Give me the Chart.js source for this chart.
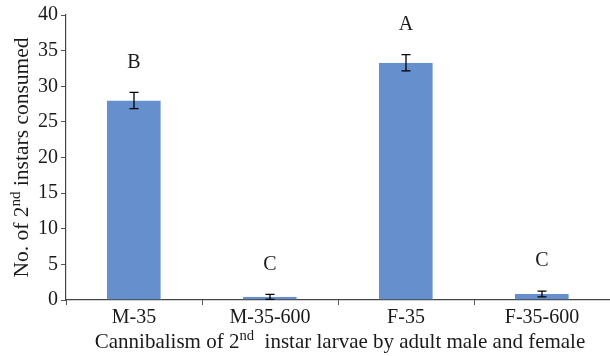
<!DOCTYPE html>
<html>
<head>
<meta charset="utf-8">
<script src="https://cdn.jsdelivr.net/npm/chart.js@4/dist/chart.umd.min.js"></script>
<style>
  html, body { margin: 0; padding: 0; background: #fff; }
  #wrap { width: 610px; height: 356px; }
</style>
</head>
<body>
<div id="wrap"><canvas id="cann"></canvas></div>
<script>
  const groups = ['M-35', 'M-35-600', 'F-35', 'F-35-600'];
  const consumed = [28.0, 0.45, 33.3, 0.85];
  const stdErr = [1.15, 0.35, 1.15, 0.4];
  const letters = ['B', 'C', 'A', 'C'];
  const yTicks = [0, 5, 10, 15, 20, 25, 30, 35, 40];

  const FONT = '"Liberation Serif", "Times New Roman", serif';
  const INK = '#1a1a1a';

  // text with a superscript part: [[text, isSup], ...]
  function supText(ctx, parts, size) {
    let w = 0;
    parts.forEach(p => {
      ctx.font = (p[1] ? size * 0.7 : size) + 'px ' + FONT;
      w += ctx.measureText(p[0]).width;
    });
    return w;
  }
  function drawSupText(ctx, parts, size, cx, cy) {
    const w = supText(ctx, parts, size);
    let x = cx - w / 2;
    ctx.textAlign = 'left';
    ctx.textBaseline = 'alphabetic';
    parts.forEach(p => {
      ctx.font = (p[1] ? size * 0.7 : size) + 'px ' + FONT;
      ctx.fillText(p[0], x, cy + size * 0.33 - (p[1] ? size * 0.36 : 0));
      x += ctx.measureText(p[0]).width;
    });
  }

  const extras = {
    id: 'extras',
    afterDatasetsDraw(chart) {
      const { ctx, scales: { y } } = chart;
      const meta = chart.getDatasetMeta(0);
      ctx.save();
      ctx.strokeStyle = '#000';
      ctx.lineWidth = 1.3;
      ctx.fillStyle = INK;
      meta.data.forEach((bar, i) => {
        const top = y.getPixelForValue(consumed[i] + stdErr[i]);
        const bot = y.getPixelForValue(consumed[i] - stdErr[i]);
        const cx = bar.x;
        ctx.beginPath();
        ctx.moveTo(cx, top); ctx.lineTo(cx, bot);
        ctx.moveTo(cx - 4.5, top); ctx.lineTo(cx + 4.5, top);
        ctx.moveTo(cx - 4.5, bot); ctx.lineTo(cx + 4.5, bot);
        ctx.stroke();
        ctx.font = '20px ' + FONT;
        ctx.textAlign = 'center';
        ctx.textBaseline = 'middle';
        ctx.fillText(letters[i], cx, top - 30);
      });
      // axis titles
      const area = chart.chartArea;
      ctx.save();
      ctx.translate(21, (area.top + area.bottom) / 2);
      ctx.rotate(-Math.PI / 2);
      drawSupText(ctx, [['No. of 2', false], ['nd', true], [' instars consumed', false]], 21.5, 0, 0);
      ctx.restore();
      drawSupText(ctx, [['Cannibalism of 2', false], ['nd', true], ['  instar larvae by adult male and female', false]],
        21, (area.left + area.right) / 2 + 2, 341);
      ctx.restore();
    }
  };

  new Chart(document.getElementById('cann'), {
    type: 'bar',
    data: {
      labels: groups,
      datasets: [{
        data: consumed,
        backgroundColor: '#658fcd',
        borderColor: '#9fbbe4',
        borderWidth: { right: 1 },
        barPercentage: 0.4,
        categoryPercentage: 1
      }]
    },
    options: {
      responsive: true,
      maintainAspectRatio: false,
      animation: false,
      layout: { padding: { top: 15, right: 0, left: 0, bottom: 0 } },
      plugins: { legend: { display: false }, tooltip: { enabled: false } },
      scales: {
        x: {
          afterFit: s => { s.height = 56; },
          grid: { offset: true, drawOnChartArea: false, drawTicks: true, tickLength: 5, color: '#555' },
          border: { color: '#444', width: 1.2 },
          ticks: { color: INK, font: { family: FONT, size: 20 }, padding: 1 }
        },
        y: {
          min: 0, max: 40,
          afterFit: s => { s.width = 66; },
          afterBuildTicks: s => { s.ticks = yTicks.map(v => ({ value: v })); },
          grid: { drawOnChartArea: false, drawTicks: true, tickLength: 5, color: '#555' },
          border: { color: '#444', width: 1.2 },
          ticks: { color: INK, font: { family: FONT, size: 20 }, padding: 3 }
        }
      }
    },
    plugins: [extras]
  });
</script>
</body>
</html>
